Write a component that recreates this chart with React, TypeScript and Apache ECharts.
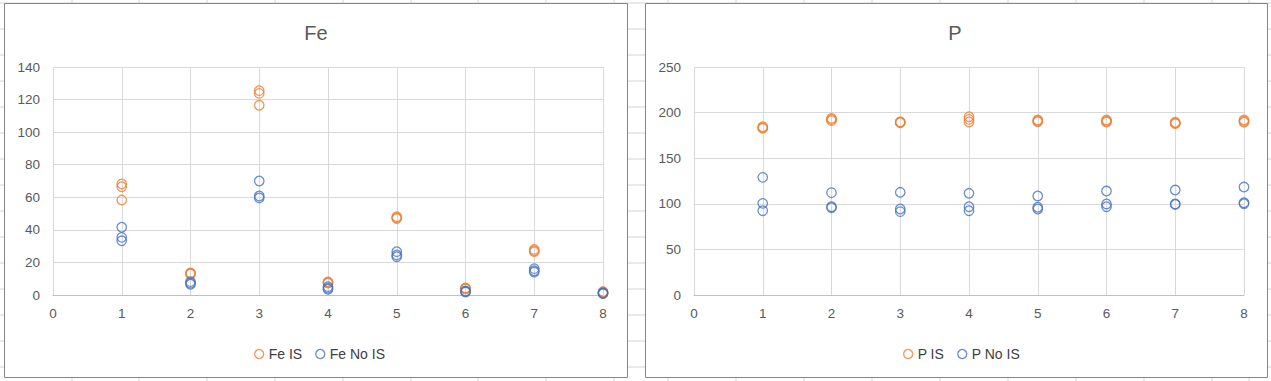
import React, { useEffect, useRef } from 'react';
import * as echarts from 'echarts';

const xPositions = [1, 2, 3, 4, 5, 6, 7, 8];
const feIS = [[68.2, 66.5, 58.3], [13.5, 13.2, 12.9], [125.5, 123.8, 116.5], [8.0, 7.6, 7.3], [48.1, 47.4, 46.9], [4.3, 4.0, 3.8], [28.0, 27.2, 26.6], [2.0, 1.8, 1.6]];
const feNoIS = [[41.6, 35.4, 33.3], [8.2, 7.3, 6.6], [70.0, 60.8, 59.6], [5.1, 4.2, 3.5], [26.6, 24.6, 23.5], [2.5, 2.1, 1.8], [16.2, 14.9, 14.1], [1.2, 1.0, 0.9]];
const pIS = [[184.5, 182.7, 183.5], [193.7, 191.2, 192.5], [189.4, 188.9, 189.8], [195.5, 192.6, 189.7], [191.9, 190.0, 190.8], [191.9, 189.7, 190.5], [189.4, 187.9, 188.5], [191.9, 189.4, 190.6]];
const pNoIS = [[129.0, 100.5, 92.4], [112.2, 96.8, 95.7], [112.6, 94.3, 91.4], [111.5, 96.8, 92.4], [108.6, 96.2, 94.3], [114.0, 99.8, 96.8], [115.1, 99.8, 99.3], [118.4, 101.2, 100.1]];

const titles = ['Fe', 'P'];
const seriesNames = [['Fe IS', 'Fe No IS'], ['P IS', 'P No IS']];
const xTicks = { min: 0, max: 8, interval: 1 };
const yTicks = [{ min: 0, max: 140, interval: 20 }, { min: 0, max: 250, interval: 50 }];

const ORANGE = '#ED7D31';
const BLUE = '#4472C4';
const FONT = '"Liberation Sans", Arial, sans-serif';

function toPoints(groups: number[][]) {
  const pts: number[][] = [];
  groups.forEach((g, i) => g.forEach((v) => pts.push([xPositions[i], v])));
  return pts;
}

export default function App() {
  const ref = useRef<HTMLDivElement>(null);
  useEffect(() => {
    document.body.style.margin = '0';
    const chart = echarts.init(ref.current!, undefined, { renderer: 'svg' });

    const bgLines: any[] = [];
    for (let y = 3; y <= 381; y += 26) {
      bgLines.push({ type: 'line', shape: { x1: 0, y1: y, x2: 1271, y2: y }, style: { stroke: '#D4D4D4', lineWidth: 1 }, z: -20 });
    }
    const colXs = [72, 139, 207, 275, 343, 411, 478, 546, 614, 668, 736, 804, 872, 940, 1008, 1076, 1144, 1212, 1249];
    colXs.forEach((x) => {
      bgLines.push({ type: 'line', shape: { x1: x, y1: 0, x2: x, y2: 381 }, style: { stroke: '#D4D4D4', lineWidth: 1 }, z: -20 });
    });
    const boxes = [
      { type: 'rect', shape: { x: 4.5, y: 3.5, width: 623, height: 374 }, style: { fill: '#fff', stroke: '#868686', lineWidth: 1 }, z: -10 },
      { type: 'rect', shape: { x: 645.5, y: 3.5, width: 622, height: 374 }, style: { fill: '#fff', stroke: '#868686', lineWidth: 1 }, z: -10 },
    ];

    const axisLabel = { color: '#595959', fontSize: 13.5, fontFamily: FONT };
    const splitLine = { show: true, lineStyle: { color: '#D9D9D9', width: 1 } };
    const mkSeries = (name: string, data: number[][], color: string, idx: number) => ({
      name,
      type: 'scatter',
      xAxisIndex: idx,
      yAxisIndex: idx,
      data,
      symbol: 'circle',
      symbolSize: 9.5,
      itemStyle: { color: 'rgba(255,255,255,0)', borderColor: color, borderWidth: 1.3 },
    });
    const legendText = { color: '#404040', fontSize: 14, fontFamily: FONT };
    const titleText = { color: '#595959', fontSize: 20, fontWeight: 'normal', fontFamily: FONT };

    chart.setOption({
      animation: false,
      backgroundColor: '#fff',
      graphic: [...bgLines, ...boxes],
      title: [
        { text: titles[0], left: 311, top: 18, textAlign: 'center', textStyle: titleText },
        { text: titles[1], left: 950, top: 18, textAlign: 'center', textStyle: titleText },
      ],
      legend: [
        {
          data: [
            { name: seriesNames[0][0], icon: 'circle', itemStyle: { color: 'rgba(255,255,255,0)', borderColor: ORANGE, borderWidth: 1.3 } },
            { name: seriesNames[0][1], icon: 'circle', itemStyle: { color: 'rgba(255,255,255,0)', borderColor: BLUE, borderWidth: 1.3 } },
          ],
          left: 249, top: 342, itemWidth: 9, itemHeight: 9, itemGap: 13,
          textStyle: legendText,
        },
        {
          data: [
            { name: seriesNames[1][0], icon: 'circle', itemStyle: { color: 'rgba(255,255,255,0)', borderColor: ORANGE, borderWidth: 1.3 } },
            { name: seriesNames[1][1], icon: 'circle', itemStyle: { color: 'rgba(255,255,255,0)', borderColor: BLUE, borderWidth: 1.3 } },
          ],
          left: 898, top: 342, itemWidth: 9, itemHeight: 9, itemGap: 13,
          textStyle: legendText,
        },
      ],
      grid: [
        { left: 53, right: 1271 - 603, top: 67, bottom: 381 - 295, containLabel: false },
        { left: 694, right: 1271 - 1244, top: 67, bottom: 381 - 295, containLabel: false },
      ],
      xAxis: [0, 1].map((i) => ({
        type: 'value', gridIndex: i, min: xTicks.min, max: xTicks.max, interval: xTicks.interval,
        axisLine: { show: true, lineStyle: { color: '#BFBFBF' } },
        axisTick: { show: false },
        axisLabel: { ...axisLabel, margin: 11 },
        splitLine,
      })),
      yAxis: [0, 1].map((i) => ({
        type: 'value', gridIndex: i, min: yTicks[i].min, max: yTicks[i].max, interval: yTicks[i].interval,
        axisLine: { show: false },
        axisTick: { show: false },
        axisLabel: { ...axisLabel, margin: 13 },
        splitLine,
      })),
      series: [
        mkSeries(seriesNames[0][0], toPoints(feIS), ORANGE, 0),
        mkSeries(seriesNames[0][1], toPoints(feNoIS), BLUE, 0),
        mkSeries(seriesNames[1][0], toPoints(pIS), ORANGE, 1),
        mkSeries(seriesNames[1][1], toPoints(pNoIS), BLUE, 1),
      ],
    });
    return () => chart.dispose();
  }, []);
  return <div ref={ref} style={{ width: 1271, height: 381 }} />;
}
